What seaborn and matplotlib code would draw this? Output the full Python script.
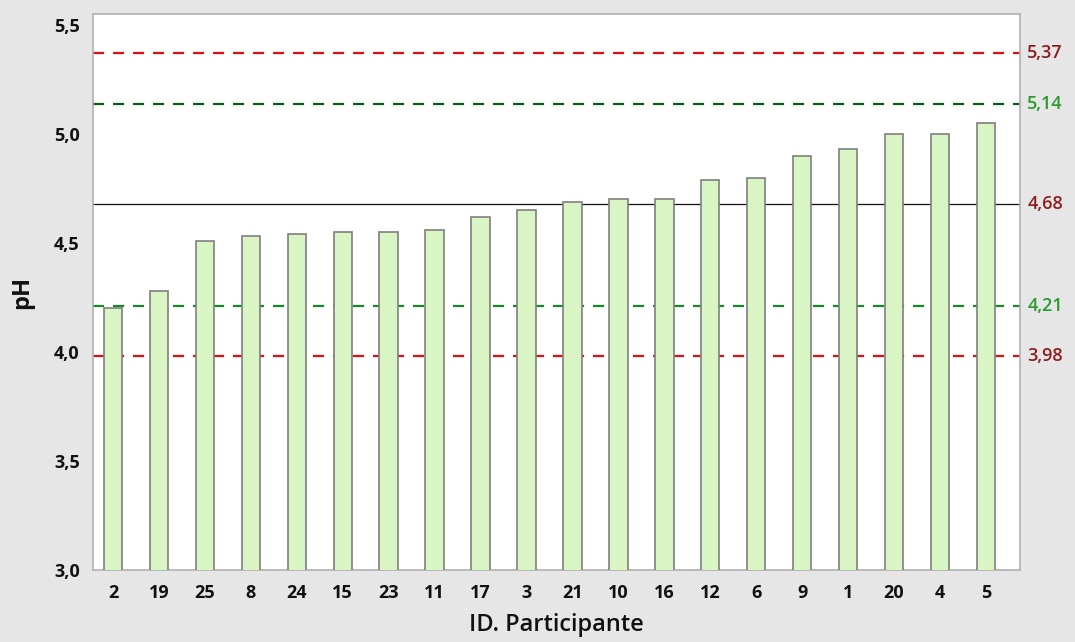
import matplotlib
matplotlib.use("Agg")
import matplotlib.pyplot as plt
import matplotlib.transforms as mtransforms
import seaborn as sns
import pandas as pd

# participant ids (sorted by pH) and measured values
participants = ["2", "19", "25", "8", "24", "15", "23", "11", "17", "3",
                "21", "10", "16", "12", "6", "9", "1", "20", "4", "5"]
ph_values = [4.20, 4.28, 4.51, 4.53, 4.54, 4.55, 4.55, 4.56, 4.62, 4.65,
             4.69, 4.70, 4.70, 4.79, 4.80, 4.90, 4.93, 5.00, 5.00, 5.05]

# reference lines: value, label
ref_values = [5.37, 5.14, 4.68, 4.21, 3.98]
ref_labels = ["5,37", "5,14", "4,68", "4,21", "3,98"]
ref_line_colors = ["#e01010", "#0b5a1c", "#111111", "#168a26", "#e01010"]
ref_styles = ["--", "--", "-", "--", "--"]
ref_text_colors = ["#8e1c1c", "#2a9a2a", "#8e1c1c", "#2a9a2a", "#8e1c1c"]

df = pd.DataFrame({"id": participants, "ph": ph_values})

sns.set_style("white")
plt.rcParams["font.family"] = ["Open Sans", "DejaVu Sans"]

fig = plt.figure(figsize=(10.75, 6.42), dpi=100, facecolor="#e6e6e6")
ax = fig.add_axes([0.0865, 0.1121, 0.8623, 0.8659])
ax.set_facecolor("white")

sns.barplot(data=df, x="id", y="ph", order=participants, color="#daf5c4",
            width=0.4, edgecolor="#7f7f7f", linewidth=1.2, saturation=1,
            ax=ax, zorder=3)

for v, c, ls in zip(ref_values, ref_line_colors, ref_styles):
    if ls == "--":
        ax.axhline(v, color=c, linestyle="--", linewidth=1.6, dashes=(5, 4), zorder=2)
    else:
        ax.axhline(v, color=c, linestyle="-", linewidth=0.9, zorder=2)

trans = mtransforms.blended_transform_factory(ax.transAxes, ax.transData)
for v, lab, tc in zip(ref_values, ref_labels, ref_text_colors):
    ax.text(1.008, v, lab, transform=trans, color=tc, fontsize=13,
            fontweight="semibold", va="center", ha="left")

ax.set_ylim(3.0, 5.55)
ax.set_xlim(-0.435, 19.74)
yticks = [3.0, 3.5, 4.0, 4.5, 5.0, 5.5]
ax.set_yticks(yticks)
ax.set_yticklabels([f"{t:.1f}".replace(".", ",") for t in yticks])

for s in ax.spines.values():
    s.set_color("#b0b0b0")
    s.set_linewidth(1.2)

ax.tick_params(axis="both", which="both", length=6, width=1.1,
               color="#a0a0a0", labelsize=13, labelcolor="#111111")
ax.tick_params(axis="x", length=5, pad=5)
for lbl in ax.get_xticklabels() + ax.get_yticklabels():
    lbl.set_fontweight("bold")

ax.set_xlabel("ID. Participante", fontsize=17, fontweight="semibold",
              labelpad=8, color="#111111")
ax.set_ylabel("pH", fontsize=17, fontweight="bold", labelpad=14, color="#111111")

fig.savefig("out.png", dpi=100, facecolor=fig.get_facecolor())
